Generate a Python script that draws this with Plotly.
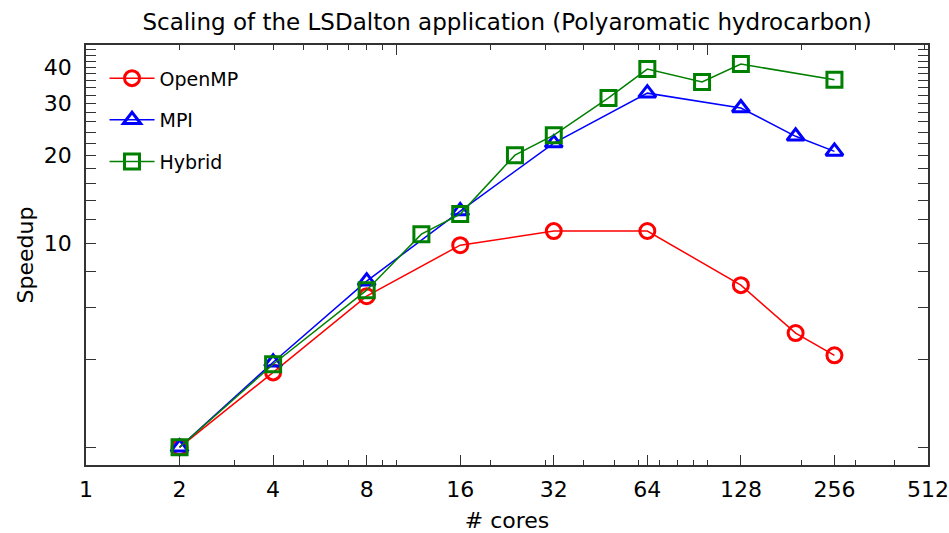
import plotly.graph_objects as go

cores_openmp = [2, 4, 8, 16, 32, 64, 128, 192, 256]
speedup_openmp = [2.0, 3.61, 6.58, 9.84, 10.99, 11.0, 7.18, 4.92, 4.13]

cores_mpi = [2, 4, 8, 16, 32, 64, 128, 192, 256]
speedup_mpi = [2.0, 3.91, 7.41, 12.87, 21.99, 32.6, 29.0, 23.2, 20.6]

cores_hybrid = [2, 4, 8, 12, 16, 24, 32, 48, 64, 96, 128, 256]
speedup_hybrid = [2.0, 3.85, 6.90, 10.73, 12.57, 20.0, 23.4, 31.4, 39.4, 35.6, 41.0, 36.2]

x_tickvals = [1, 2, 4, 8, 16, 32, 64, 128, 256, 512]
x_ticktext = ["1", "2", "4", "8", "16", "32", "64", "128", "256", "512"]
x_minor = [3, 5, 6, 7, 9, 10, 20, 30, 40, 50, 60, 70, 80, 90, 100, 200, 300, 400]
top_major = [10, 100]
top_minor = [2, 3, 4, 5, 6, 7, 8, 9, 20, 30, 40, 50, 60, 70, 80, 90, 200, 300, 400, 500]
y_tickvals = [10, 20, 30, 40]
y_ticktext = ["10", "20", "30", "40"]
y_minor = [2, 4, 6, 8, 12, 14, 16, 18, 22, 24, 26, 28, 32, 34, 36, 38, 42, 44, 46]

FONT = "DejaVu Sans"
AX = "#333333"

fig = go.Figure()
series = [
    ("OpenMP", cores_openmp, speedup_openmp, "#ff0000", "circle-open"),
    ("MPI", cores_mpi, speedup_mpi, "#0000ff", "triangle-up-open"),
    ("Hybrid", cores_hybrid, speedup_hybrid, "#008000", "square-open"),
]
for name, xs, ys, col, sym in series:
    fig.add_trace(go.Scatter(
        x=xs, y=ys, name=name, mode="lines+markers",
        legendgroup=name,
        line=dict(color=col, width=1.5),
        marker=dict(symbol=sym, size=15, color=col, line=dict(color=col, width=3)),
    ))

# dummy trace to activate top axis
fig.add_trace(go.Scatter(x=[], y=[], xaxis="x2", showlegend=False, hoverinfo="skip"))

fig.update_layout(
    width=949, height=533,
    margin=dict(l=86, r=21, t=45, b=68),
    paper_bgcolor="white", plot_bgcolor="white",
    font=dict(family=FONT, color="black", size=22),
    title=dict(text="Scaling of the LSDalton application (Polyaromatic hydrocarbon)",
               x=0.5, xref="paper", xanchor="center",
               y=1 - 22 / 533, yref="container", yanchor="middle",
               font=dict(size=23, family=FONT)),
    showlegend=True,
    legend=dict(x=0.022, y=0.966, xanchor="left", yanchor="top",
                bgcolor="rgba(0,0,0,0)", font=dict(size=19, family=FONT),
                traceorder="grouped", tracegroupgap=14, itemwidth=45),
    xaxis=dict(
        type="log", range=[0, 2.70927], tickvals=x_tickvals, ticktext=x_ticktext,
        ticks="inside", ticklen=10, tickwidth=1.2, tickcolor=AX,
        showline=True, linecolor=AX, linewidth=1.5, mirror=True,
        showgrid=False, zeroline=False, automargin=False,
        ticklabelstandoff=4,
        minor=dict(tickvals=x_minor, ticks="inside", ticklen=5, tickwidth=1.2, tickcolor=AX, showgrid=False),
        title=dict(text="# cores", font=dict(size=22), standoff=14),
        tickfont=dict(size=22),
    ),
    xaxis2=dict(
        type="log", range=[0, 2.70927], overlaying="x", side="top", anchor="y",
        tickvals=top_major, showticklabels=False,
        ticks="inside", ticklen=10, tickwidth=1.2, tickcolor=AX,
        showgrid=False, zeroline=False, showline=False, automargin=False,
        minor=dict(tickvals=top_minor, ticks="inside", ticklen=5, tickwidth=1.2, tickcolor=AX, showgrid=False),
    ),
    yaxis=dict(
        type="log", range=[0.2405, 1.678], tickvals=y_tickvals, ticktext=y_ticktext,
        ticks="inside", ticklen=10, tickwidth=1.2, tickcolor=AX,
        showline=True, linecolor=AX, linewidth=1.5, mirror="allticks",
        showgrid=False, zeroline=False, automargin=False,
        ticklabelstandoff=8,
        minor=dict(tickvals=y_minor, ticks="inside", ticklen=5, tickwidth=1.2, tickcolor=AX, showgrid=False),
        title=dict(text="Speedup", font=dict(size=22), standoff=4),
        tickfont=dict(size=22),
    ),
)

fig.write_html("out.html")
